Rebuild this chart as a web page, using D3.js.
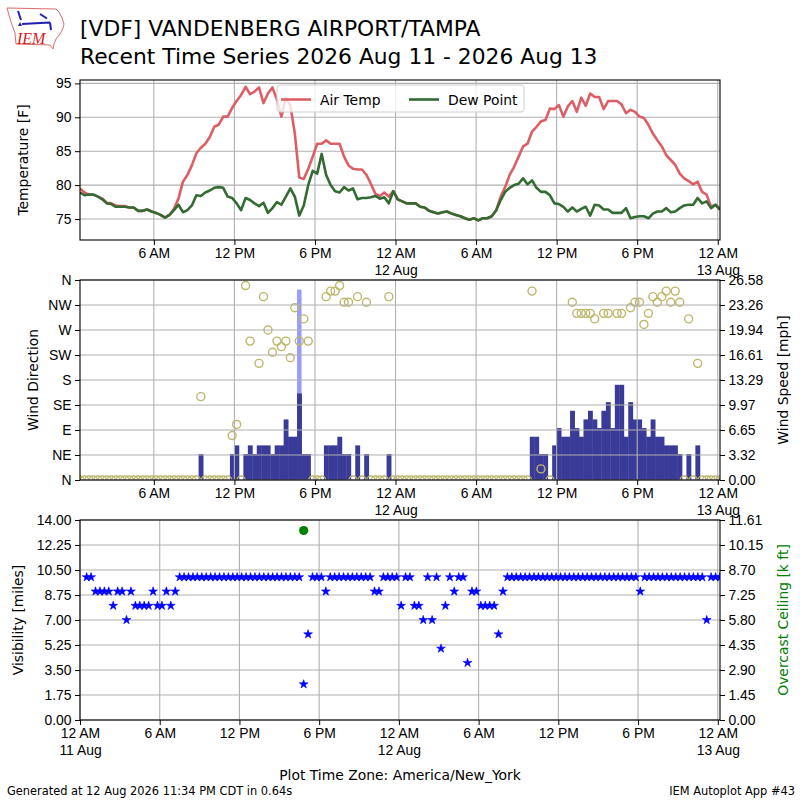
<!DOCTYPE html>
<html lang="en">
<head>
<meta charset="UTF-8">
<title>VDF Recent Time Series</title>
<script src="https://cdn.jsdelivr.net/npm/d3@7"></script>
<style>
  body { margin: 0; background: #fff; }
  svg { font-family: "DejaVu Sans", sans-serif; }
  .tick line { stroke: #000; }
  .tick text { font-size: 13.9px; fill: #000; }
</style>
</head>
<body>
<svg width="800" height="800"></svg>
<script>
// ---- data (one report every 20 minutes) ----
const obsStart = Date.UTC(2026, 7, 11, 0, 30);   // first report, plot-local time
const obsStepMin = 20;
const visStart = Date.UTC(2026, 7, 11, 0, 0);    // lower panel starts at midnight

// air temperature [F]
const tmpf = [
  79.5, 78.9, 78.6, 78.6, 78.3, 78.0, 77.4, 77.3, 77.0, 76.9, 76.9, 76.7,
  76.7, 76.2, 76.2, 76.4, 76.1, 75.9, 75.6, 75.2, 75.6, 76.5, 78.0, 80.5,
  81.5, 82.9, 84.7, 85.5, 86.1, 87.1, 88.6, 88.9, 90.1, 90.1, 91.4, 92.4,
  93.3, 94.5, 93.4, 93.8, 94.4, 92.1, 93.5, 94.4, 92.6, 90.1, 92.8, 91.8,
  87.6, 81.1, 80.9, 82.4, 84.2, 86.1, 86.1, 86.6, 86.1, 86.1, 86.1, 84.2,
  82.9, 82.4, 82.3, 82.3, 81.5, 80.2, 78.7, 78.4, 78.9, 78.3, 79.1, 77.9,
  77.6, 77.3, 77.3, 77.3, 76.8, 76.7, 76.2, 76.0, 75.8, 76.0, 76.1, 75.8,
  75.6, 75.4, 75.1, 74.9, 75.1, 74.8, 75.1, 75.1, 75.4, 76.3, 78.3, 79.7,
  81.5, 82.7, 84.2, 85.7, 86.1, 87.9, 88.6, 89.4, 89.6, 91.3, 91.2, 91.8,
  90.1, 91.6, 92.4, 90.8, 92.9, 91.7, 93.5, 93.0, 93.0, 91.2, 92.4, 92.4,
  92.4, 91.9, 90.6, 91.1, 90.8, 90.1, 89.9, 88.9, 87.6, 86.6, 85.7, 84.4,
  83.7, 83.0, 81.7, 81.0, 80.6, 80.1, 80.5, 79.0, 78.6, 76.8, 77.1, 76.4
];

// dew point [F]
const dwpf = [
  78.9, 78.5, 78.6, 78.6, 78.3, 77.9, 77.3, 77.2, 76.8, 76.8, 76.8, 76.7,
  76.7, 76.2, 76.2, 76.4, 76.1, 75.9, 75.6, 75.2, 75.6, 76.3, 77.1, 76.0,
  76.3, 77.0, 78.5, 78.4, 78.9, 79.2, 79.6, 79.7, 79.6, 78.3, 78.1, 77.3,
  76.3, 78.1, 77.8, 77.3, 76.9, 77.4, 75.9, 76.6, 77.5, 77.1, 78.3, 79.5,
  78.3, 75.5, 77.0, 80.0, 82.1, 81.7, 84.6, 81.5, 80.0, 79.1, 78.9, 79.7,
  79.2, 79.5, 77.9, 78.1, 78.1, 78.2, 78.4, 78.0, 78.2, 77.3, 79.1, 77.9,
  77.6, 77.3, 77.3, 77.3, 76.8, 76.7, 76.2, 76.0, 75.8, 76.0, 76.1, 75.8,
  75.6, 75.4, 75.1, 74.9, 75.1, 74.8, 75.1, 75.1, 75.4, 76.3, 77.8, 79.0,
  79.6, 80.0, 80.2, 81.0, 80.1, 80.7, 79.6, 79.0, 79.0, 78.5, 77.3, 77.2,
  76.8, 76.1, 76.7, 76.1, 76.5, 76.8, 75.5, 77.1, 77.0, 76.4, 76.4, 75.9,
  75.9, 75.9, 76.6, 75.1, 75.3, 75.4, 75.4, 75.1, 75.8, 76.1, 76.1, 76.6,
  76.0, 76.1, 76.6, 77.0, 77.1, 77.1, 78.1, 77.3, 77.6, 76.6, 77.1, 76.4
];

// wind direction [deg], 0 = calm, null = variable / not reported
const drct = [
  0, 0, 0, 0, 0, 0, 0, 0, 0, 0, 0, 0,
  0, 0, 0, 0, 0, 0, 0, 0, 0, 0, 0, 0,
  0, 0, 0, 150, 0, 0, 0, 0, 0, 0, 80, 100,
  0, 350, 250, null, 210, 330, 270, 230, 250, 240, 250, 220,
  310, 250, 290, 250, 0, 0, 0, 330, 340, 340, 350, 320,
  320, 0, 330, 0, 320, 0, 0, 0, 0, 330, 0, 0,
  0, 0, 0, 0, 0, 0, 0, 0, 0, 0, 0, 0,
  0, 0, 0, 0, 0, 0, 0, 0, 0, 0, 0, 0,
  0, 0, 0, 0, 0, 340, null, 20, null, 0, null, null,
  null, null, 320, 300, 300, 300, 300, 290, null, 300, 300, null,
  300, 300, null, 310, 320, 320, 280, 300, 330, 320, 330, 340,
  320, 340, 320, 0, 290, 0, 210, 0, 0, 0, 0, 0
];

// wind speed [mph]
const smph = [
  0, 0, 0, 0, 0, 0, 0, 0, 0, 0, 0, 0,
  0, 0, 0, 0, 0, 0, 0, 0, 0, 0, 0, 0,
  0, 0, 0, 3.45, 0, 0, 0, 0, 0, 0, 3.45, 4.6,
  0, 3.45, 4.6, 3.45, 4.6, 4.6, 4.6, 3.45, 4.6, 4.6, 8.05, 5.75,
  5.75, 11.5, 3.45, 3.45, 0, 0, 0, 4.6, 4.6, 4.6, 5.75, 3.45,
  3.45, 0, 4.6, 0, 3.45, 0, 0, 0, 0, 3.45, 0, 0,
  0, 0, 0, 0, 0, 0, 0, 0, 0, 0, 0, 0,
  0, 0, 0, 0, 0, 0, 0, 0, 0, 0, 0, 0,
  0, 0, 0, 0, 0, 5.75, 5.75, 3.45, 3.45, 0, 4.6, 6.9,
  5.75, 5.75, 9.2, 6.9, 5.75, 8.05, 9.2, 8.05, 6.9, 9.2, 10.35, 6.9,
  12.65, 12.65, 5.75, 10.35, 8.05, 8.05, 6.9, 5.75, 8.05, 5.75, 5.75, 4.6,
  4.6, 4.6, 3.45, 0, 3.45, 0, 4.6, 0, 0, 0, 0, 0
];

// gusts [mph] (report index, value)
const gustIdx = [49];
const gustMph = [25.3];

// visibility [miles]
const vsby = [
  10, 10, 9, 9, 9, 9, 8, 9, 9, 7, 9, 8,
  8, 8, 8, 9, 8, 8, 9, 8, 9, 10, 10, 10,
  10, 10, 10, 10, 10, 10, 10, 10, 10, 10, 10, 10,
  10, 10, 10, 10, 10, 10, 10, 10, 10, 10, 10, 10,
  10, 2.5, 6, 10, 10, 10, 9, 10, 10, 10, 10, 10,
  10, 10, 10, 10, 10, 9, 9, 10, 10, 10, 10, 8,
  10, 10, 8, 8, 7, 10, 7, 10, 5, 8, 10, 9,
  10, 10, 4, 9, 9, 8, 8, 8, 8, 6, 9, 10,
  10, 10, 10, 10, 10, 10, 10, 10, 10, 10, 10, 10,
  10, 10, 10, 10, 10, 10, 10, 10, 10, 10, 10, 10,
  10, 10, 10, 10, 10, 9, 10, 10, 10, 10, 10, 10,
  10, 10, 10, 10, 10, 10, 10, 10, 7, 10, 10, 10
];

// overcast ceiling [k ft] (report index, value)
const ceilIdx = [49];
const ceilKft = [11.0];

// axis ticks
const tempTicks = [75, 80, 85, 90, 95];
const dirTickLabels = ["N", "NE", "E", "SE", "S", "SW", "W", "NW", "N"];
const spdTickLabels = ["0.00", "3.32", "6.65", "9.97", "13.29", "16.61", "19.94", "23.26", "26.58"];
const visTickLabels = ["0.00", "1.75", "3.50", "5.25", "7.00", "8.75", "10.50", "12.25", "14.00"];
const ceilTickLabels = ["0.00", "1.45", "2.90", "4.35", "5.80", "7.25", "8.70", "10.15", "11.61"];

// ---- layout ----
const svg = d3.select("svg");
const left = 80, right = 720;
const pTop = { y0: 80, y1: 240 };
const pMid = { y0: 280, y1: 480 };
const pBot = { y0: 520, y1: 720 };
const gridColor = "#b0b0b0";
const fs = "13.9px";

const times = tmpf.map((_, i) => new Date(obsStart + i * obsStepMin * 60000));
const xTop = d3.scaleUtc().domain([times[0], times[times.length - 1]]).range([left, right]);
const xBot = d3.scaleUtc().domain([new Date(visStart), times[times.length - 1]]).range([left, right]);

const yTemp = d3.scaleLinear().domain([71.9, 95.5]).range([pTop.y1, pTop.y0]);
const yDir = d3.scaleLinear().domain([0, 360]).range([pMid.y1, pMid.y0]);
const ySpd = d3.scaleLinear().domain([0, 26.58]).range([pMid.y1, pMid.y0]);
const yVis = d3.scaleLinear().domain([0, 14]).range([pBot.y1, pBot.y0]);
const yCeil = d3.scaleLinear().domain([0, 11.61]).range([pBot.y1, pBot.y0]);

const eighths = n => d3.range(9).map(i => i * n / 8);

function tickLabel(d) {
  const h = d.getUTCHours();
  const hh = h % 12 === 0 ? 12 : h % 12;
  const s = hh + (h < 12 ? " AM" : " PM");
  return h === 0 ? s + "|" + d.getUTCDate() + " Aug" : s;
}

// clip rects
const defs = svg.append("defs");
[["clipTop", pTop], ["clipMid", pMid], ["clipBot", pBot]].forEach(([id, p]) => {
  defs.append("clipPath").attr("id", id)
    .append("rect").attr("x", left).attr("y", p.y0)
    .attr("width", right - left).attr("height", p.y1 - p.y0);
});

function grid(x, p, yScale, yVals) {
  const g = svg.append("g").attr("stroke", gridColor).attr("stroke-width", 1.1);
  const xt = d3.utcHour.every(6).range(x.domain()[0], new Date(+x.domain()[1] + 1));
  g.selectAll(null).data(xt).join("line")
    .attr("x1", d => x(d)).attr("x2", d => x(d))
    .attr("y1", p.y0).attr("y2", p.y1);
  g.selectAll(null).data(yVals).join("line")
    .attr("x1", left).attr("x2", right)
    .attr("y1", d => yScale(d)).attr("y2", d => yScale(d));
}

function xAxis(x, p) {
  const xt = d3.utcHour.every(6).range(x.domain()[0], new Date(+x.domain()[1] + 1));
  const g = svg.append("g").attr("transform", `translate(0,${p.y1})`)
    .call(d3.axisBottom(x).tickValues(xt).tickSize(5).tickSizeOuter(0)
      .tickPadding(3.5).tickFormat(tickLabel));
  g.select(".domain").remove();
  g.selectAll(".tick text").each(function () {
    const t = d3.select(this);
    const parts = t.text().split("|");
    t.text(null);
    parts.forEach((s, i) => t.append("tspan").attr("x", 0)
      .attr("dy", i === 0 ? "0.71em" : "1.17em").text(s));
  });
}

function yAxis(scale, vals, labels, side) {
  const ax = side === "left" ? d3.axisLeft(scale) : d3.axisRight(scale);
  const g = svg.append("g").attr("transform", `translate(${side === "left" ? left : right},0)`)
    .call(ax.tickValues(vals).tickSize(5).tickSizeOuter(0).tickPadding(3.5)
      .tickFormat((d, i) => labels ? labels[i] : d));
  g.select(".domain").remove();
}

function frame(p) {
  svg.append("rect").attr("x", left).attr("y", p.y0)
    .attr("width", right - left).attr("height", p.y1 - p.y0)
    .attr("fill", "none").attr("stroke", "#000").attr("stroke-width", 1.1);
}

function yLabel(text, x, p, color) {
  svg.append("text")
    .attr("transform", `translate(${x},${(p.y0 + p.y1) / 2}) rotate(-90)`)
    .attr("text-anchor", "middle").attr("font-size", fs)
    .attr("fill", color || "#000").text(text);
}

// ---- temperature panel ----
grid(xTop, pTop, yTemp, tempTicks);
const tempLine = arr => d3.line().x((d, i) => xTop(times[i])).y(d => yTemp(d))(arr);
const gTop = svg.append("g").attr("clip-path", "url(#clipTop)");
gTop.append("path").attr("d", tempLine(tmpf)).attr("fill", "none")
  .attr("stroke", "#dd5f66").attr("stroke-width", 2.6).attr("stroke-linejoin", "round");
gTop.append("path").attr("d", tempLine(dwpf)).attr("fill", "none")
  .attr("stroke", "#336b33").attr("stroke-width", 2.6).attr("stroke-linejoin", "round");
xAxis(xTop, pTop);
yAxis(yTemp, tempTicks, null, "left");
frame(pTop);
yLabel("Temperature [F]", 28, pTop);

// legend
const lg = svg.append("g");
lg.append("rect").attr("x", 277).attr("y", 85).attr("width", 247).attr("height", 27)
  .attr("rx", 3).attr("fill", "#fff").attr("fill-opacity", 0.8)
  .attr("stroke", "#d0d0d0").attr("stroke-width", 1);
[["Air Temp", "#dd5f66", 281], ["Dew Point", "#336b33", 409]].forEach(([name, c, x0]) => {
  lg.append("line").attr("x1", x0).attr("x2", x0 + 30).attr("y1", 99.5).attr("y2", 99.5)
    .attr("stroke", c).attr("stroke-width", 2.6);
  lg.append("text").attr("x", x0 + 39).attr("y", 104.5).attr("font-size", fs).text(name);
});

// ---- wind panel ----
const half = obsStepMin / 2 * 60000;
const gMid = svg.append("g").attr("clip-path", "url(#clipMid)");
gMid.selectAll(null).data(gustIdx).join("rect")
  .attr("x", (d) => xTop(new Date(+times[d] - half)))
  .attr("width", (d) => xTop(new Date(+times[d] + half)) - xTop(new Date(+times[d] - half)))
  .attr("y", (d, j) => ySpd(gustMph[j]))
  .attr("height", (d, j) => ySpd(0) - ySpd(gustMph[j]))
  .attr("fill", "#9999ff");
gMid.selectAll(null).data(smph.map((v, i) => ({ v, t: times[i] })).filter(d => d.v > 0)).join("rect")
  .attr("x", d => xTop(new Date(+d.t - half)))
  .attr("width", d => xTop(new Date(+d.t + half)) - xTop(new Date(+d.t - half)) + 0.4)
  .attr("y", d => ySpd(d.v))
  .attr("height", d => ySpd(0) - ySpd(d.v))
  .attr("fill", "#3a3a98");
grid(xTop, pMid, yDir, eighths(360));
gMid.selectAll(null).data(drct.map((v, i) => ({ v, t: times[i] })).filter(d => d.v !== null)).join("circle")
  .attr("cx", d => xTop(d.t)).attr("cy", d => yDir(d.v)).attr("r", 4)
  .attr("fill", "none").attr("stroke", "#bdb76b").attr("stroke-width", 1.4);
xAxis(xTop, pMid);
yAxis(yDir, eighths(360), dirTickLabels, "left");
yAxis(ySpd, eighths(26.58), spdTickLabels, "right");
frame(pMid);
yLabel("Wind Direction", 38, pMid);
yLabel("Wind Speed [mph]", 788, pMid);

// ---- visibility / ceiling panel ----
grid(xBot, pBot, yVis, eighths(14));
const gBot = svg.append("g").attr("clip-path", "url(#clipBot)");
gBot.selectAll(null).data(vsby.map((v, i) => ({ v, t: times[i] }))).join("path")
  .attr("d", d3.symbol(d3.symbolStar, 24))
  .attr("transform", d => `translate(${xBot(d.t)},${yVis(d.v)})`)
  .attr("fill", "#0000ff").attr("stroke", "#0000ff").attr("stroke-width", 0.6);
gBot.selectAll(null).data(ceilIdx).join("circle")
  .attr("cx", d => xBot(times[d])).attr("cy", (d, j) => yCeil(ceilKft[j]))
  .attr("r", 4.6).attr("fill", "#008000");
xAxis(xBot, pBot);
yAxis(yVis, eighths(14), visTickLabels, "left");
yAxis(yCeil, eighths(11.61), ceilTickLabels, "right");
frame(pBot);
yLabel("Visibility [miles]", 23, pBot);
yLabel("Overcast Ceiling [k ft]", 788, pBot, "#008000");

// ---- titles and footer ----
svg.append("text").attr("x", 80).attr("y", 36).attr("font-size", "21.8px")
  .text("[VDF] VANDENBERG AIRPORT/TAMPA");
svg.append("text").attr("x", 80).attr("y", 64).attr("font-size", "21.8px")
  .text("Recent Time Series 2026 Aug 11 - 2026 Aug 13");
svg.append("text").attr("x", 400).attr("y", 780).attr("text-anchor", "middle")
  .attr("font-size", fs).text("Plot Time Zone: America/New_York");
svg.append("text").attr("x", 7).attr("y", 795).attr("font-size", "11.4px")
  .text("Generated at 12 Aug 2026 11:34 PM CDT in 0.64s");
svg.append("text").attr("x", 795).attr("y", 795).attr("text-anchor", "end")
  .attr("font-size", "11.4px").text("IEM Autoplot App #43");

// ---- IEM logo (rough) ----
const logo = svg.append("g");
logo.append("path")
  .attr("d", "M7,8 L56,9 L59,12 L62,18 L64,24 L63,28 L60,34 L56,39 L54,44 L53,49 L50,45 L16,44 L15,33 L11,22 Z")
  .attr("fill", "none").attr("stroke", "#e06a6a").attr("stroke-width", 1);
logo.append("path").attr("d", "M22,24 L50,22.5 M18,11 L21,20 M40,14 L47,18.5 M50,22.5 L51,30")
  .attr("fill", "none").attr("stroke", "#1f1fb4").attr("stroke-width", 2);
logo.append("path").attr("d", "M18,26 L20,22 L22,26 Z").attr("fill", "#1f1fb4");
logo.append("text").attr("x", 17).attr("y", 44).attr("font-family", "Liberation Serif, serif")
  .attr("font-style", "italic").attr("font-size", "16px").attr("fill", "#d42020").text("IEM");
</script>
</body>
</html>
